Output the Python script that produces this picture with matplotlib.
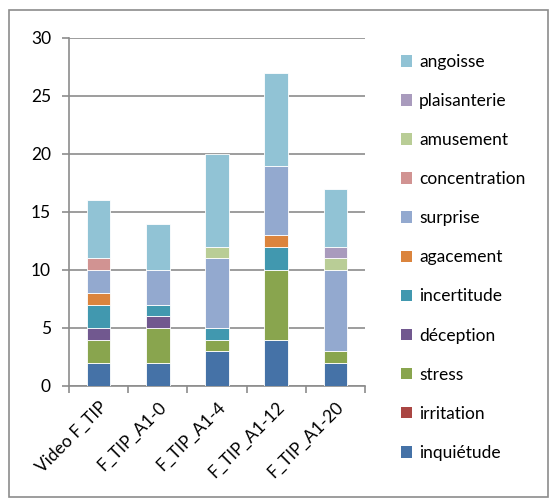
import matplotlib.pyplot as plt
from matplotlib.patches import Rectangle, Patch
import numpy as np

categories = ["Video F_TIP", "F_TIP_A1-0", "F_TIP_A1-4", "F_TIP_A1-12", "F_TIP_A1-20"]

# series stacked from bottom to top
inquietude    = [2, 2, 3, 4, 2]
irritation    = [0, 0, 0, 0, 0]
stress        = [2, 3, 1, 6, 1]
deception     = [1, 1, 0, 0, 0]
incertitude   = [2, 1, 1, 2, 0]
agacement     = [1, 0, 0, 1, 0]
surprise      = [2, 3, 6, 6, 7]
concentration = [1, 0, 0, 0, 0]
amusement     = [0, 0, 1, 0, 1]
plaisanterie  = [0, 0, 0, 0, 1]
angoisse      = [5, 4, 8, 8, 5]

series = [
    ("inquiétude", inquietude, "#4572A7"),
    ("irritation", irritation, "#AA4643"),
    ("stress", stress, "#89A54E"),
    ("déception", deception, "#71588F"),
    ("incertitude", incertitude, "#4198AF"),
    ("agacement", agacement, "#DB843D"),
    ("surprise", surprise, "#93A9CF"),
    ("concentration", concentration, "#D19392"),
    ("amusement", amusement, "#B9CD96"),
    ("plaisanterie", plaisanterie, "#A99BBD"),
    ("angoisse", angoisse, "#91C3D5"),
]

plt.rcParams['font.family'] = ['Lato', 'DejaVu Sans']

fig = plt.figure(figsize=(5.51, 4.99), dpi=100)
ax = fig.add_axes([69 / 551, 1 - 386 / 499, 296 / 551, 348 / 499])

x = np.arange(len(categories))
bottom = np.zeros(len(categories))
for name, vals, col in series:
    vals = np.array(vals, dtype=float)
    ax.bar(x, vals, 0.4, bottom=bottom, color=col, edgecolor="white",
           linewidth=0.6, zorder=3)
    bottom += vals

ax.set_xlim(-0.5, len(categories) - 0.5)
ax.set_ylim(0, 30)
ax.set_yticks(range(0, 31, 5))
ax.yaxis.grid(True, color="#8c8c8c", linewidth=1.2, zorder=0)
for s in ["top", "right"]:
    ax.spines[s].set_visible(False)
for s in ["left", "bottom"]:
    ax.spines[s].set_color("#8c8c8c")
    ax.spines[s].set_linewidth(1.2)

ax.set_xticks(np.arange(len(categories) + 1) - 0.5, minor=False)
ax.set_xticklabels([])
ax.set_xticks(x, minor=True)
ax.set_xticklabels(categories, minor=True, rotation=45, ha="right",
                   rotation_mode="anchor", fontsize=12.5)
ax.tick_params(axis="x", which="major", length=5, color="#8c8c8c", width=1.2)
ax.tick_params(axis="x", which="minor", length=0, pad=9)
ax.tick_params(axis="y", length=5, color="#8c8c8c", width=1.2, labelsize=12.5, pad=8)

handles = [Patch(facecolor=col, edgecolor="none", label=name) for name, _, col in series[::-1]]
fig.legend(handles=handles, loc="upper left", bbox_to_anchor=(394 / 551, 1 - 47 / 499),
           frameon=False, fontsize=12.5, handlelength=0.65, handleheight=0.65,
           handletextpad=0.4, labelspacing=1.33, borderaxespad=0)

fig.patches.append(Rectangle((9 / 551, 2 / 499), 539 / 551, 487 / 499,
                             transform=fig.transFigure, fill=False,
                             edgecolor="#8c8c8c", linewidth=1.2))

fig.savefig("out.png", dpi=100)
